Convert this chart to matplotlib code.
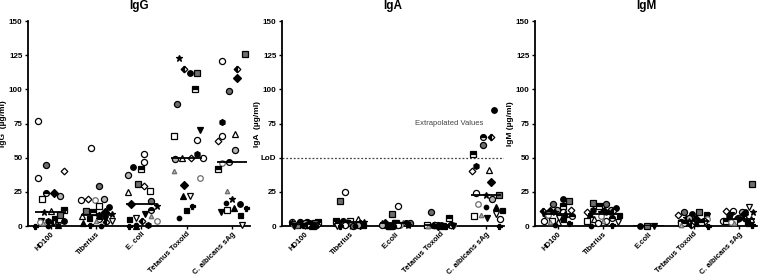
import numpy as np
import matplotlib
matplotlib.use("Agg")
import matplotlib.pyplot as plt

plt.rcParams["font.family"] = ["Liberation Sans", "DejaVu Sans"]

nan = np.nan

panels = ["IgG", "IgA", "IgM"]
ylabels = ["IgG  (µg/ml)", "IgA  (µg/ml)", "IgM (µg/ml)"]
cats_igg = ["HD100", "Tiberius", "E. coli", "Tetanus Toxoid", "C. albicans sAg"]
cats_other = ["HD100", "Tiberius", "E.coli", "Tetanus Toxoid", "C. albicans sAg"]
yticks = [0, 25, 50, 75, 100, 125, 150]
ytick_labels_igg = ["0", "25", "50", "75", "100", "125", "150"]
ytick_labels_iga = ["0", "25", "LoD", "75", "100", "125", "150"]
lod_value = 50

# values per donor (same donor order across categories)
igg_hd100 = [77, 4, 45, 40, 24, 20, 8, 11, 4, 1, 10, 4, 6, 24, 12, 3, 2, 0, 22, 3, 1, 0, 35]
igg_tiberius = [57, 14, 29, 20, 10, 15, 11, 7, 5, 4, 9, 8, 6, 5, 10, 3, 4, 1, 20, 19, 2, 0, 19]
igg_ecoli = [53, 43, 18, 29, 16, 26, 31, 25, 9, 6, 15, 1, 5, 12, 42, 4, 7, 0, 37, 4, 0, 1, 47]
igg_tetanus = [63, 112, 89, 50, 30, 66, 112, 50, 70, 22, 123, 53, 12, nan, 100, 115, 40, 15, 49, 35, 22, 6, 50]
igg_calb = [121, 16, 99, 62, 108, 12, 126, 67, 10, 1, 20, 76, 8, 47, 42, 115, 26, 13, 56, 46, 13, 17, 66]

iga_hd100 = [3, 2, 3, 1, 2, 1, 2, 1, 0, 1, 1, 2, 1, 2, 3, 1, 1, 0, 2, 1, 0, 1, 3]
iga_tiberius = [25, 1, 0, nan, 1, 4, 18, 5, 2, 0, 3, 1, 1, 4, 4, 2, 3, 0, 1, 3, 2, 0, 1]
iga_ecoli = [15, 1, 2, 1, 2, 2, 9, 2, 1, 0, 1, 1, 0, 2, 2, 1, 3, 0, 1, 1, 0, 1, 1]
iga_tetanus = [1, 1, 10, 1, 0, 1, nan, 1, 0, 0, 1, 1, 1, nan, 6, 1, 0, 0, 1, 1, 0, 1, 1]
iga_calb = [24, 85, 59, 40, 32, 7, 23, 41, 6, 9, 23, 44, 12, 65, 53, 65, 8, 0, 20, 16, 14, 14, 5]

igm_hd100 = [10, 20, 16, 12, 11, 4, 18, 3, 8, 6, 10, 9, 5, 7, 15, 11, 3, 2, 12, 8, 9, 1, 4]
igm_tiberius = [4, 13, 16, 10, 11, 4, 17, 5, 9, 3, 10, 12, 8, 6, 15, 11, 4, 1, 12, 7, 9, 0, 2]
igm_ecoli = [nan, 0, nan, nan, nan, nan, 0, nan, 0, nan, nan, nan, nan, nan, nan, nan, nan, nan, nan, nan, nan, nan, nan]
igm_tetanus = [3, 9, 10, 8, 5, 2, 10, 4, 7, 3, 6, 4, 9, 2, 3, 1, 1, 0, 6, 5, 2, 3, 4]
igm_calb = [4, 10, 6, 11, 9, 3, 31, 5, 8, 14, 10, 7, 3, 5, 4, 6, 2, 1, 10, 3, 2, 5, 11]

medians_igg = [10, 8, 16, 50, 47]
medians_iga = [1.5, 3, 2, 1, 23]
medians_igm = [9, 8.5, 0, 3.5, 5]

data = [
    [igg_hd100, igg_tiberius, igg_ecoli, igg_tetanus, igg_calb],
    [iga_hd100, iga_tiberius, iga_ecoli, iga_tetanus, iga_calb],
    [igm_hd100, igm_tiberius, igm_ecoli, igm_tetanus, igm_calb],
]
medians = [medians_igg, medians_iga, medians_igm]

# donor marker styles: (marker, facecolor, edgecolor, fillstyle, size)
K, W, G, LG = "black", "white", "#6e6e6e", "#b5b5b5"
styles = [
    ("o", W, K, "full", 4.4),
    ("o", K, K, "full", 4.0),
    ("o", G, K, "full", 4.4),
    ("D", W, K, "full", 3.4),
    ("D", K, K, "full", 3.8),
    ("s", W, K, "full", 4.2),
    ("s", G, K, "full", 4.4),
    ("^", W, K, "full", 4.2),
    ("v", K, K, "full", 3.8),
    ("v", W, K, "full", 4.4),
    ("*", K, K, "full", 4.8),
    ("h", K, K, "full", 4.2),
    ("s", K, K, "full", 3.6),
    ("o", K, K, "top", 4.2),
    ("s", K, K, "top", 4.0),
    ("D", K, K, "left", 3.4),
    ("^", LG, G, "full", 3.2),
    ("P", K, K, "full", 3.6),
    ("o", LG, K, "full", 4.4),
    ("o", W, G, "full", 4.0),
    ("^", K, K, "full", 3.8),
    ("o", K, K, "full", 3.2),
    ("o", W, K, "full", 4.4),
]

fig = plt.figure(figsize=(7.58, 2.77), dpi=100)
lefts = [0.037, 0.372, 0.706]
width, bottom, height = 0.293, 0.184, 0.74

marker_px = 6.5
half_spread = 16  # px

for p in range(3):
    ax = fig.add_axes([lefts[p], bottom, width, height])
    ax.set_xlim(-0.5, 4.4)
    ax.set_ylim(0, 150)
    for s in ["top", "right"]:
        ax.spines[s].set_visible(False)
    for s in ["left", "bottom"]:
        ax.spines[s].set_linewidth(1.3)
    ax.set_yticks(yticks)
    ax.set_yticklabels(ytick_labels_iga if p == 1 else ytick_labels_igg,
                       fontsize=5.8, fontweight="bold")
    cats = cats_igg if p == 0 else cats_other
    ax.set_xticks(range(5))
    ax.set_xticklabels(cats, rotation=45, ha="right", rotation_mode="anchor",
                       fontsize=5.5, fontweight="bold")
    ax.tick_params(axis="both", length=2.5, width=1.0, pad=1.5)
    ax.tick_params(axis="x", pad=1.0)
    ax.set_ylabel(ylabels[p], fontsize=6, fontweight="bold")
    ax.yaxis.set_label_coords(-0.095, 0.5)
    ax.set_title(panels[p], fontsize=8.5, fontweight="bold", pad=9)

    for ci in range(5):
        vals = np.array(data[p][ci], dtype=float)
        idx = [i for i in np.argsort(-vals, kind="stable") if not np.isnan(vals[i])]
        placed = []
        offs = {}
        cx, _ = ax.transData.transform((ci, 0))
        for i in idx:
            _, py = ax.transData.transform((ci, vals[i]))
            pref = (((i * 7 + ci * 3) % 11) - 5) / 5.0 * half_spread * 0.8
            cands = sorted(np.arange(-half_spread, half_spread + 0.1, 1.0),
                           key=lambda d: abs(d - pref))
            best = None
            for dx in cands:
                if all((dx - qx) ** 2 + (py - qy) ** 2 >= marker_px ** 2
                       for qx, qy in placed):
                    best = dx
                    break
            if best is None:
                best = pref
            placed.append((best, py))
            offs[i] = ax.transData.inverted().transform((cx + best, py))[0]
        for i in idx:
            m, fc, ec, fs, ms = styles[i % len(styles)]
            kw = dict(marker=m, markersize=ms, markeredgecolor=ec,
                      markeredgewidth=0.9, linestyle="none", clip_on=False,
                      zorder=3)
            if fs == "full":
                ax.plot([offs[i]], [vals[i]], markerfacecolor=fc, **kw)
            else:
                ax.plot([offs[i]], [vals[i]], markerfacecolor=fc, fillstyle=fs,
                        markerfacecoloralt=W, **kw)
        ax.hlines(medians[p][ci], ci - 0.34, ci + 0.34, color="black",
                  linewidth=1.3, zorder=4)

    if p == 1:
        ax.axhline(lod_value, color="#444444", linestyle=(0, (1.5, 1.5)),
                   linewidth=0.9, zorder=1)
        ax.text(3.95, 75, "Extrapolated Values", fontsize=5.5, color="#444444",
                ha="right", va="center")

fig.savefig("out.png", dpi=100)
